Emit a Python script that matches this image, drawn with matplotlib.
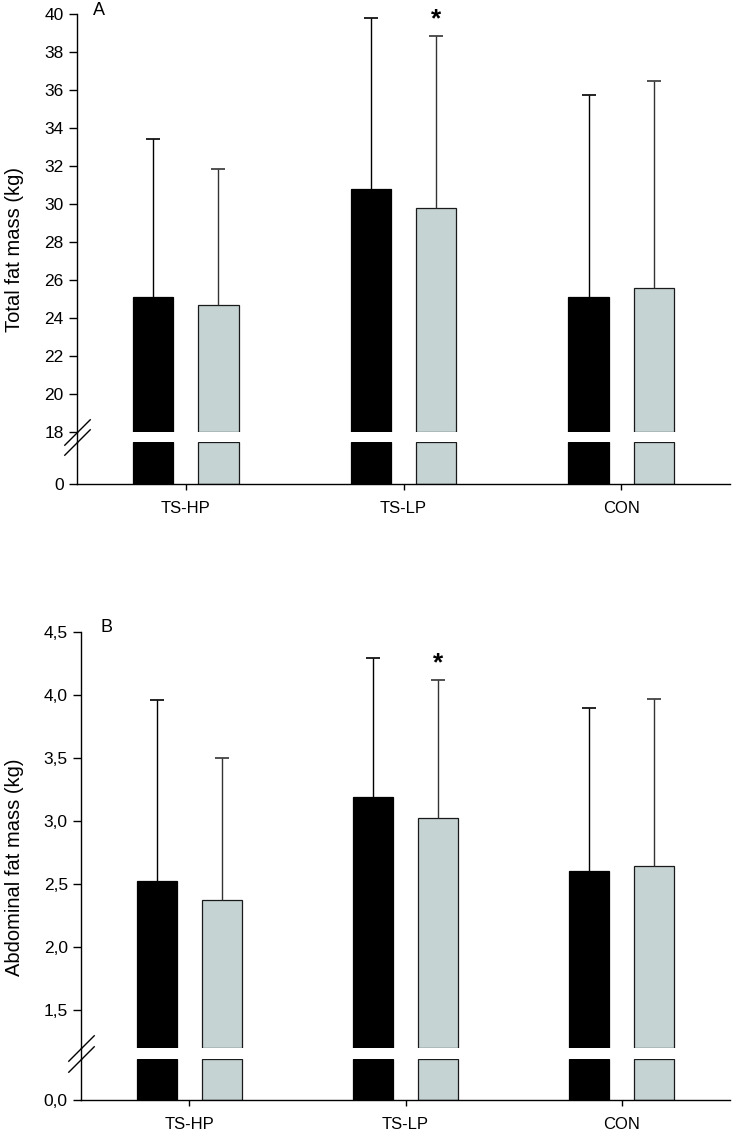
import numpy as np
import matplotlib
matplotlib.use('Agg')
import matplotlib.pyplot as plt
from matplotlib.lines import Line2D
from matplotlib.ticker import FuncFormatter

plt.rcParams['font.family'] = ['Liberation Sans', 'DejaVu Sans']

groups = ['TS-HP', 'TS-LP', 'CON']

# panel A: total fat mass (kg), mean and SD
fat_black = [25.1, 30.75, 25.1]
fat_black_sd = [8.3, 9.0, 10.6]
fat_grey = [24.65, 29.75, 25.55]
fat_grey_sd = [7.2, 9.1, 10.9]

# panel B: abdominal fat mass (kg)
abd_black = [2.53, 3.19, 2.61]
abd_black_sd = [1.43, 1.11, 1.29]
abd_grey = [2.38, 3.03, 2.65]
abd_grey_sd = [1.12, 1.09, 1.32]

GREY = '#c5d3d3'
W = 0.185
OFF = 0.15


def draw_bars(ax, x, black, grey, bottom=0.0, top=None):
    black = np.asarray(black)
    grey = np.asarray(grey)
    if top is not None:
        hb, hg = np.minimum(black, top) - bottom, np.minimum(grey, top) - bottom
    else:
        hb, hg = black - bottom, grey - bottom
    ax.bar(x - OFF, hb, W, bottom=bottom, color='black', edgecolor='black', linewidth=0.9)
    ax.bar(x + OFF, hg, W, bottom=bottom, color=GREY, edgecolor='#1a1a1a', linewidth=0.9)


def upper_errors(ax, x, mean, sd, color):
    z = np.zeros(len(mean))
    _, caps, _ = ax.errorbar(x, mean, yerr=[z, sd], fmt='none', ecolor=color,
                             elinewidth=1, capsize=4.7, capthick=1.2)
    # only the top cap is wanted
    caps[0].set_visible(False)


def panel(fig, rect_hi, rect_lo, black, black_sd, grey, grey_sd, lim_hi, lim_lo,
          yticks, fmt, letter, ylabel, label_y):
    x = np.arange(len(groups))
    ax_hi = fig.add_axes(rect_hi)
    ax_lo = fig.add_axes(rect_lo)

    draw_bars(ax_hi, x, black, grey, bottom=lim_hi[0])
    draw_bars(ax_lo, x, black, grey, bottom=0.0, top=lim_lo[1])

    upper_errors(ax_hi, x - OFF, black, black_sd, 'black')
    upper_errors(ax_hi, x + OFF, grey, grey_sd, '#333333')

    # significance star over TS-LP grey bar
    ax_hi.annotate('*', (x[1] + OFF, grey[1] + grey_sd[1]), xytext=(0, 7),
                   textcoords='offset points', ha='center', va='baseline',
                   fontsize=19, fontweight='bold', annotation_clip=False)

    for ax in (ax_hi, ax_lo):
        ax.set_xlim(-0.5, 2.5)
        ax.spines['top'].set_visible(False)
        ax.spines['right'].set_visible(False)
        ax.spines['left'].set_linewidth(1)
        ax.spines['bottom'].set_linewidth(1)
        ax.tick_params(axis='y', length=5.5, width=1, pad=4, labelsize=12.5)
        ax.yaxis.set_major_formatter(FuncFormatter(fmt))

    ax_hi.set_ylim(*lim_hi)
    ax_hi.set_yticks(yticks)
    ax_hi.spines['bottom'].set_visible(False)
    ax_hi.set_xticks([])

    ax_lo.set_ylim(*lim_lo)
    ax_lo.set_yticks([0])
    ax_lo.set_xticks(x)
    ax_lo.set_xticklabels(groups)
    ax_lo.tick_params(axis='x', length=4.5, width=1, pad=8, labelsize=12)

    # spine through the gap and break marks
    x0 = rect_hi[0]
    fig.add_artist(Line2D([x0, x0], [rect_lo[1] + rect_lo[3], rect_hi[1]],
                          color='black', linewidth=1, transform=fig.transFigure))
    mk = dict(marker=[(-1, -1), (1, 1)], markersize=19, linestyle='none',
              color='black', mec='black', mew=1, clip_on=False)
    ax_hi.plot([0], [0], transform=ax_hi.transAxes, **mk)
    ax_lo.plot([0], [1], transform=ax_lo.transAxes, **mk)

    ax_hi.text(letter[1], letter[2], letter[0], transform=fig.transFigure,
               ha='center', va='center', fontsize=13)
    fig.text(15 / 732, label_y, ylabel, rotation=90, ha='center', va='center',
             fontsize=14.5)


def main():
    fig = plt.figure(figsize=(7.32, 11.37), dpi=100)
    H = 1137.0

    panel(fig,
          [77 / 732, 1 - 431.7 / H, 653 / 732, 418 / H],
          [77 / 732, 1 - 484 / H, 653 / 732, 42.3 / H],
          fat_black, fat_black_sd, fat_grey, fat_grey_sd,
          (18, 40), (0, 2), np.arange(18, 41, 2),
          lambda v, p: f'{v:.0f}',
          ('A', 98.7 / 732, 1 - 10.3 / H),
          'Total fat mass (kg)', 1 - 250 / H)

    panel(fig,
          [81 / 732, 1 - 1048.3 / H, 649 / 732, 416 / H],
          [81 / 732, 1 - 1100 / H, 649 / 732, 41.3 / H],
          abd_black, abd_black_sd, abd_grey, abd_grey_sd,
          (1.2, 4.5), (0, 0.2), np.arange(1.5, 4.51, 0.5),
          lambda v, p: f'{v:.1f}'.replace('.', ','),
          ('B', 106 / 732, 1 - 628 / H),
          'Abdominal fat mass (kg)', 1 - 867 / H)

    fig.savefig('out.png', dpi=100)


if __name__ == '__main__':
    main()
